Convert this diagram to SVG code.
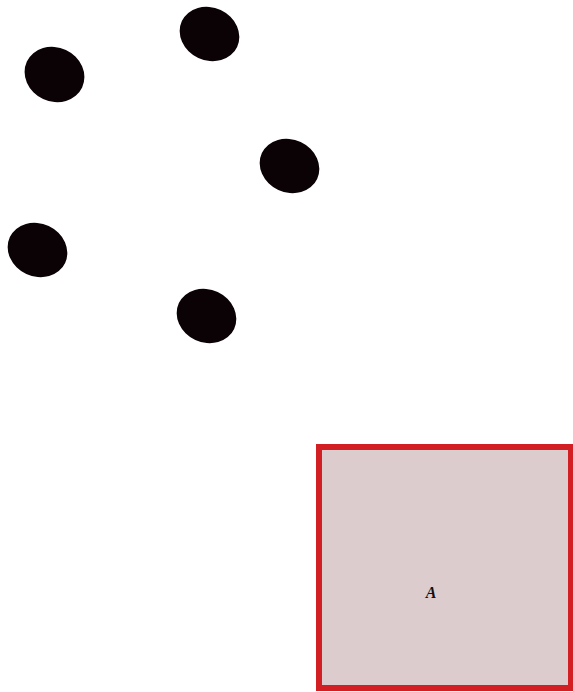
<svg xmlns="http://www.w3.org/2000/svg" width="573" height="692" viewBox="0 0 573 692">
<style>
.dot{fill:#0a0204}
.box{fill:#dccccd;stroke:#d21f24;stroke-width:6}
.lbl{font-family:"Liberation Serif",serif;font-weight:bold;font-style:italic;font-size:16px;fill:#111}
</style>
<rect width="573" height="692" fill="#fff"/>
<g id="dot1"><ellipse class="dot" cx="54.5" cy="74.5" rx="30.5" ry="27" transform="rotate(25 54.5 74.5)"/></g>
<g id="dot2"><ellipse class="dot" cx="209.5" cy="34" rx="30.5" ry="26.5" transform="rotate(25 209.5 34)"/></g>
<g id="dot3"><ellipse class="dot" cx="289.5" cy="166" rx="30.5" ry="26.5" transform="rotate(25 289.5 166)"/></g>
<g id="dot4"><ellipse class="dot" cx="37.5" cy="250" rx="30.5" ry="26.5" transform="rotate(25 37.5 250)"/></g>
<g id="dot5"><ellipse class="dot" cx="206.5" cy="316" rx="30.5" ry="26.5" transform="rotate(25 206.5 316)"/></g>
<g id="boxA">
<rect class="box" x="319" y="447" width="252" height="241"/>
<text class="lbl" x="431" y="598" text-anchor="middle">A</text>
</g>
<g id="connectors"></g>
</svg>
